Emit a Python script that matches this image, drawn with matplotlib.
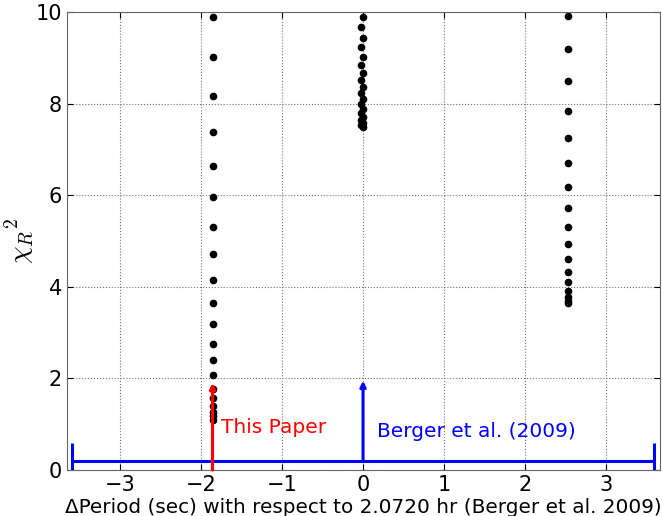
import numpy as np
import matplotlib
matplotlib.use('Agg')
import matplotlib.pyplot as plt

plt.rcParams['mathtext.fontset'] = 'cm'

# chi-square minima columns
x_left = -1.85
chi_left = [9.89, 9.02, 8.17, 7.38, 6.64, 5.96, 5.31, 4.72, 4.15, 3.65, 3.19,
            2.75, 2.40, 2.07, 1.78, 1.57, 1.40, 1.27, 1.17, 1.10]

x_mid = [0.0, -0.02, 0.0, -0.02, 0.0, -0.02, 0.0, -0.02, 0.0, -0.02,
         0.0, -0.02, 0.0, -0.02, 0.0, -0.02, 0.0, -0.02, 0.0]
chi_mid = [9.89, 9.67, 9.43, 9.24, 9.02, 8.84, 8.67, 8.52, 8.36, 8.23,
           8.10, 7.99, 7.88, 7.79, 7.71, 7.64, 7.58, 7.53, 7.49]

x_right = 2.53
chi_right = [9.91, 9.19, 8.49, 7.84, 7.25, 6.70, 6.18, 5.72, 5.31, 4.93,
             4.61, 4.32, 4.10, 3.91, 3.78, 3.70, 3.65]

# period estimates
this_paper = -1.86
this_paper_top = 1.9
berger = 0.0
berger_err = 3.6
berger_y = 0.2
berger_top = 1.95

fig = plt.figure(figsize=(6.62, 5.16), dpi=100)
ax = fig.add_axes([0.101, 0.089, 0.896, 0.888])

ax.plot([x_left] * len(chi_left), chi_left, 'o', color='k', ms=4.5, mec='k')
ax.plot(x_mid, chi_mid, 'o', color='k', ms=4.5, mec='k')
ax.plot([x_right] * len(chi_right), chi_right, 'o', color='k', ms=4.5, mec='k')

# Berger et al. period with its uncertainty
ax.errorbar(berger, berger_y, xerr=berger_err, color='b', lw=2.2,
            capsize=13, capthick=2.2, fmt='none')
ax.annotate('', xy=(berger, berger_top), xytext=(berger, berger_y),
            arrowprops=dict(arrowstyle='-|>', color='b', lw=2.2,
                            mutation_scale=8, shrinkA=0, shrinkB=0))
ax.text(0.17, 0.72, 'Berger et al. (2009)', color='b', fontsize=14.5)

# this paper
ax.annotate('', xy=(this_paper, this_paper_top), xytext=(this_paper, 0),
            arrowprops=dict(arrowstyle='-|>', color='r', lw=2.2,
                            mutation_scale=8, shrinkA=0, shrinkB=0))
ax.text(-1.75, 0.8, 'This Paper', color='r', fontsize=14.5)

ax.set_xlim(-3.66, 3.67)
ax.set_ylim(0, 10)
ax.set_xticks([-3, -2, -1, 0, 1, 2, 3])
ax.set_yticks([0, 2, 4, 6, 8, 10])
ax.set_xticklabels(['\u22123', '\u22122', '\u22121', '0', '1', '2', '3'])
ax.tick_params(direction='in', labelsize=15, length=4, top=True, right=True)
ax.grid(True, linestyle=':', color='0.45', lw=0.8)
for s in ax.spines.values():
    s.set_color('0.4')

ax.set_xlabel('\u0394Period (sec) with respect to 2.0720 hr (Berger et al. 2009)',
              fontsize=14.4, labelpad=2)
ax.set_ylabel(r'$\chi_R{}^2$', fontsize=20, labelpad=0)

fig.savefig('out.png', dpi=100)
